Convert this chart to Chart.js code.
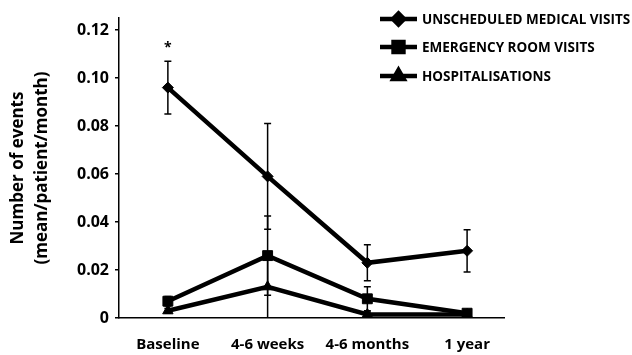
<!DOCTYPE html>
<html>
<head>
<meta charset="utf-8">
<script src="https://cdn.jsdelivr.net/npm/chart.js"></script>
<style>
  body { margin: 0; background: #fff; }
  #wrap { width: 632px; height: 355px; }
</style>
</head>
<body>
<div id="wrap"><canvas id="chart"></canvas></div>
<script>
const categories = ['Baseline', '4-6 weeks', '4-6 months', '1 year'];
const yTicks = [0, 0.02, 0.04, 0.06, 0.08, 0.10, 0.12];

const unscheduled = [0.096, 0.059, 0.023, 0.028];
const unscheduledErr = [0.011, 0.022, 0.0075, 0.0088];
const emergency = [0.007, 0.026, 0.008, 0.002];
const emergencyErr = [0.002, 0.0165, 0.005, 0.001];
const hospital = [0.003, 0.013, 0.0015, 0.0015];
const hospitalErr = [0.001, 0.0135, 0.001, 0.001];

const FONT = '"Open Sans", "DejaVu Sans", sans-serif';

const toPoints = arr => arr.map((v, i) => ({ x: i, y: v }));

// error bars behind the markers
const errorBars = {
  id: 'errorBars',
  beforeDatasetsDraw(chart) {
    const { ctx, chartArea, scales: { x, y } } = chart;
    ctx.save();
    ctx.beginPath();
    ctx.rect(chartArea.left, chartArea.top - 20, chartArea.right - chartArea.left, chartArea.bottom - chartArea.top + 20);
    ctx.clip();
    ctx.strokeStyle = '#000';
    ctx.lineWidth = 1.5;
    chart.data.datasets.forEach(ds => {
      ds.data.forEach((p, i) => {
        const e = ds.errors[i];
        const px = x.getPixelForValue(p.x);
        const top = y.getPixelForValue(p.y + e);
        const bot = y.getPixelForValue(p.y - e);
        ctx.beginPath();
        ctx.moveTo(px, top); ctx.lineTo(px, bot);
        ctx.moveTo(px - 3.5, top); ctx.lineTo(px + 3.5, top);
        ctx.moveTo(px - 3.5, bot); ctx.lineTo(px + 3.5, bot);
        ctx.stroke();
      });
    });
    ctx.restore();
  }
};

// legend: line with marker, top right
const lineLegend = {
  id: 'lineLegend',
  afterDraw(chart) {
    const { ctx } = chart;
    const rows = [19, 47, 76];
    ctx.save();
    chart.data.datasets.forEach((ds, i) => {
      const yy = rows[i];
      ctx.strokeStyle = '#000';
      ctx.lineWidth = 4.5;
      ctx.beginPath();
      ctx.moveTo(380, yy); ctx.lineTo(417, yy);
      ctx.stroke();
      ctx.fillStyle = '#000';
      Chart.helpers.drawPoint(ctx, { pointStyle: ds.pointStyle, radius: ds.pointRadius, rotation: 0, borderWidth: 1 }, 398.5, yy);
      ctx.fill();
      ctx.font = 'bold 13.5px ' + FONT;
      ctx.textBaseline = 'middle';
      ctx.textAlign = 'left';
      ctx.fillText(ds.label, 422, yy + 1);
    });
    // significance mark above baseline
    const { x, y } = chart.scales;
    ctx.font = 'bold 14px ' + FONT;
    ctx.textAlign = 'center';
    ctx.fillText('*', x.getPixelForValue(0), y.getPixelForValue(0.1135) + 2);
    ctx.restore();
  }
};

const mkSet = (label, data, errors, style, radius) => ({
  label,
  data: toPoints(data),
  errors,
  borderColor: '#000',
  backgroundColor: '#000',
  borderWidth: 4.5,
  pointStyle: style,
  pointRadius: radius,
  pointBorderWidth: 1,
  pointBackgroundColor: '#000',
  pointBorderColor: '#000',
  tension: 0,
  fill: false
});

new Chart(document.getElementById('chart'), {
  type: 'line',
  data: {
    datasets: [
      mkSet('UNSCHEDULED MEDICAL VISITS', unscheduled, unscheduledErr, 'rectRot', 5.5),
      mkSet('EMERGENCY ROOM VISITS', emergency, emergencyErr, 'rect', 7),
      mkSet('HOSPITALISATIONS', hospital, hospitalErr, 'triangle', 6)
    ]
  },
  options: {
    responsive: true,
    maintainAspectRatio: false,
    animation: false,
    layout: { padding: { left: 0, right: 128, top: 18, bottom: 0 } },
    plugins: { legend: { display: false }, tooltip: { enabled: false } },
    scales: {
      x: {
        type: 'linear',
        min: -0.49,
        max: 3.37,
        grid: { display: false },
        border: { display: true, color: '#000', width: 1.5 },
        afterBuildTicks: s => { s.ticks = categories.map((c, i) => ({ value: i })); },
        afterFit: s => { s.height = 37; },
        ticks: {
          padding: 10,
          color: '#000',
          font: { family: FONT, size: 15, weight: 'bold' },
          callback: v => categories[v]
        }
      },
      y: {
        min: 0,
        max: 0.125,
        grid: { display: true, drawOnChartArea: false, drawTicks: true, tickLength: 4, color: '#000', lineWidth: 1.5 },
        border: { display: true, color: '#000', width: 1.5 },
        afterBuildTicks: s => { s.ticks = yTicks.map(v => ({ value: v })); },
        afterFit: s => { s.width = 119; },
        ticks: {
          padding: 6,
          color: '#000',
          font: { family: FONT, size: 16, weight: 'bold' },
          callback: v => (v === 0 ? '0' : v.toFixed(2))
        },
        title: {
          display: true,
          text: ['Number of events', '(mean/patient/month)'],
          color: '#000',
          font: { family: FONT, size: 17, weight: 'bold', lineHeight: 1.4 },
          padding: { top: 6 }
        }
      }
    }
  },
  plugins: [errorBars, lineLegend]
});
</script>
</body>
</html>
